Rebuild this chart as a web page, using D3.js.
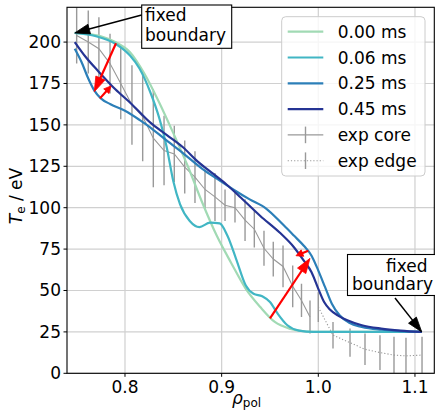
<!DOCTYPE html>
<html>
<head>
<meta charset="utf-8">
<script src="https://cdn.jsdelivr.net/npm/d3@7"></script>
<style>
  body { margin: 0; background: #fff; }
  text { font-family: "DejaVu Sans", sans-serif; }
</style>
</head>
<body>
<svg id="chart" width="435" height="415"></svg>
<script>
// ---- simulated electron temperature profiles ----
const seriesLabels = ["0.00 ms", "0.06 ms", "0.25 ms", "0.45 ms"];
const seriesColors = ["#a1dab4", "#41b6c4", "#2c7fb8", "#253494"];

const rho00 = [0.748, 0.76, 0.775, 0.79, 0.805, 0.82, 0.835, 0.85, 0.865, 0.88, 0.895, 0.91, 0.925, 0.94, 0.955, 0.97, 0.985, 1.0, 1.05, 1.107];
const te00  = [205.5, 205, 203.5, 200, 194, 181, 164, 145, 125, 103, 83, 66.5, 51, 40, 31, 27, 25.4, 25, 25, 25];

const rho06 = [0.748, 0.77, 0.79, 0.805, 0.815, 0.826, 0.836, 0.843, 0.85, 0.857, 0.867, 0.877, 0.888, 0.898, 0.906, 0.915, 0.925, 0.933, 0.942, 0.95, 0.958, 0.968, 0.98, 0.995, 1.05, 1.107];
const te06  = [205.5, 203.5, 199, 192, 184, 170, 153, 137, 116, 102, 92, 88.3, 91, 90.5, 83, 69, 53, 48, 46.5, 43, 36, 29, 25.8, 25, 25, 25];

const rho25 = [0.748, 0.755, 0.762, 0.768, 0.775, 0.785, 0.8, 0.815, 0.826, 0.84, 0.86, 0.88, 0.895, 0.912, 0.929, 0.946, 0.964, 0.975, 0.985, 0.993, 1.0, 1.007, 1.014, 1.022, 1.032, 1.045, 1.065, 1.085, 1.107];
const te25  = [196, 188, 178, 171, 166, 162.5, 158.5, 153, 148.5, 142, 133, 123.5, 117.5, 111, 105, 99.5, 89.5, 83, 77, 71, 62, 52, 42, 35, 30.5, 28, 26.3, 25.5, 25];

const rho45 = [0.748, 0.76, 0.773, 0.79, 0.807, 0.826, 0.843, 0.86, 0.875, 0.89, 0.905, 0.92, 0.94, 0.96, 0.975, 0.985, 0.993, 1.0, 1.006, 1.012, 1.02, 1.03, 1.045, 1.065, 1.085, 1.107];
const te45  = [200, 190.5, 182, 171.5, 162.5, 151.5, 144, 136.5, 128, 121, 114, 106, 95, 85, 76, 68, 61, 51, 43, 38.5, 35, 32, 29, 27, 25.8, 25];

// ---- measured profiles with uncertainties ----
const coreRho = [0.750, 0.762, 0.773, 0.7845, 0.7956, 0.8072, 0.8183, 0.8293, 0.8404, 0.851, 0.8618, 0.8724, 0.8828, 0.8931, 0.9035, 0.9138, 0.9242, 0.9338, 0.9438, 0.9534, 0.9635, 0.9735, 0.9826, 0.9914];
const coreTe  = [204, 200, 196, 187, 175, 162, 155, 142, 134.5, 132.5, 124.5, 118.5, 111, 106.5, 101.5, 100, 92.5, 87, 75.5, 69, 64.5, 52.5, 44, 34];
const coreErr = [17, 19, 19, 18, 21.6, 24, 27, 29.6, 21, 17, 16, 15.6, 12, 14.5, 9.5, 9, 12.6, 11, 10.5, 10.5, 12.6, 12.6, 10, 10];

const edgeRho = [1.0, 1.0152, 1.0328, 1.0483, 1.0638, 1.0783, 1.0907, 1.1073];
const edgeTe  = [40, 23, 18.5, 14.5, 12.5, 11, 10.5, 11];
const edgeErr = [9, 8, 8.5, 9.5, 10.5, 11, 11, 11];

// ---- axes ----
const xTicks = [0.8, 0.9, 1.0, 1.1];
const yTicks = [0, 25, 50, 75, 100, 125, 150, 175, 200];

// ---- evolution arrows (rho, Te) ----
const redFrom = [[0.7907, 199.3], [0.7741, 166.0], [0.950, 33.2], [0.9896, 74.0]];
const redTo   = [[0.7682, 170.0], [0.7855, 173.5], [0.9914, 69.4], [0.9769, 71.0]];
const redBig  = [true, false, true, false];

// fixed boundary points
const boundaryPts = [[0.748, 205.5], [1.107, 25]];

const svg = d3.select("#chart");
const W = 435, H = 415;
const L = 67, R = 434.3, T = 7.3, B = 373.3;

const x = d3.scaleLinear().domain([0.74, 1.12]).range([L, R]);
const y = d3.scaleLinear().domain([0, 221]).range([B, T]);

svg.append("rect").attr("width", W).attr("height", H).attr("fill", "#fff");

svg.append("defs").append("clipPath").attr("id", "plotclip")
  .append("rect").attr("x", L).attr("y", T).attr("width", R - L).attr("height", B - T);

// grid
const grid = svg.append("g");
xTicks.forEach(t => grid.append("line")
  .attr("x1", x(t)).attr("x2", x(t)).attr("y1", T).attr("y2", B)
  .attr("stroke", "#d0d0d0").attr("stroke-width", 1.2));
yTicks.forEach(t => grid.append("line")
  .attr("x1", L).attr("x2", R).attr("y1", y(t)).attr("y2", y(t))
  .attr("stroke", "#d0d0d0").attr("stroke-width", 1.2));

const plot = svg.append("g").attr("clip-path", "url(#plotclip)");

// error bars
function errorBars(rho, te, err) {
  rho.forEach((r, i) => {
    plot.append("line")
      .attr("x1", x(r)).attr("x2", x(r))
      .attr("y1", y(te[i] - err[i])).attr("y2", y(te[i] + err[i]))
      .attr("stroke", "#999").attr("stroke-width", 1.4);
  });
}
errorBars(coreRho, coreTe, coreErr);
errorBars(edgeRho, edgeTe, edgeErr);

const straight = d3.line().x(d => x(d[0])).y(d => y(d[1]));
plot.append("path").datum(d3.zip(coreRho, coreTe)).attr("d", straight)
  .attr("fill", "none").attr("stroke", "#999").attr("stroke-width", 1.1);
plot.append("path").datum(d3.zip(edgeRho, edgeTe)).attr("d", straight)
  .attr("fill", "none").attr("stroke", "#999").attr("stroke-width", 1.1)
  .attr("stroke-dasharray", "1.2,2");

// model curves
const smooth = d3.line().x(d => x(d[0])).y(d => y(d[1])).curve(d3.curveMonotoneX);
const seriesData = [[rho00, te00], [rho06, te06], [rho25, te25], [rho45, te45]];
seriesData.forEach(([r, t], i) => {
  plot.append("path").datum(d3.zip(r, t)).attr("d", smooth)
    .attr("fill", "none").attr("stroke", seriesColors[i]).attr("stroke-width", 2.2)
    .attr("stroke-linejoin", "round");
});

// arrow helper in pixel space
function arrow(g, x1, y1, x2, y2, color, lw, headLen, headHalf) {
  const dx = x2 - x1, dy = y2 - y1, len = Math.hypot(dx, dy);
  const ux = dx / len, uy = dy / len;
  const bx = x2 - ux * headLen, by = y2 - uy * headLen;
  g.append("line").attr("x1", x1).attr("y1", y1).attr("x2", bx + ux).attr("y2", by + uy)
    .attr("stroke", color).attr("stroke-width", lw);
  g.append("path")
    .attr("d", `M${x2},${y2}L${bx - uy * headHalf},${by + ux * headHalf}L${bx + uy * headHalf},${by - ux * headHalf}Z`)
    .attr("fill", color).attr("stroke", color).attr("stroke-width", 0.8).attr("stroke-linejoin", "miter");
}

const ann = svg.append("g");
redFrom.forEach((f, i) => {
  const big = redBig[i];
  arrow(ann, x(f[0]), y(f[1]), x(redTo[i][0]), y(redTo[i][1]), "#ff0000", 2.2,
        big ? 15 : 7, big ? 5 : 3.5);
});

// frame
svg.append("rect").attr("x", L).attr("y", T).attr("width", R - L).attr("height", B - T)
  .attr("fill", "none").attr("stroke", "#000").attr("stroke-width", 1.1);

// ticks
const axes = svg.append("g").attr("font-size", 17).attr("fill", "#000");
xTicks.forEach(t => {
  axes.append("line").attr("x1", x(t)).attr("x2", x(t)).attr("y1", B).attr("y2", B + 3.5)
    .attr("stroke", "#000").attr("stroke-width", 1);
  axes.append("text").attr("x", x(t)).attr("y", B + 20).attr("text-anchor", "middle")
    .text(d3.format(".1f")(t));
});
yTicks.forEach(t => {
  axes.append("line").attr("x1", L - 3.5).attr("x2", L).attr("y1", y(t)).attr("y2", y(t))
    .attr("stroke", "#000").attr("stroke-width", 1);
  axes.append("text").attr("x", L - 6).attr("y", y(t) + 6).attr("text-anchor", "end").text(t);
});

// axis labels
const xl = svg.append("text").attr("x", 232).attr("y", 404).attr("font-size", 17);
xl.append("tspan").attr("font-style", "italic").text("ρ");
xl.append("tspan").attr("font-size", 12).attr("dy", 3).text("pol");

const yl = svg.append("text").attr("transform", "translate(22,196) rotate(-90)")
  .attr("text-anchor", "middle").attr("font-size", 17);
yl.append("tspan").attr("font-style", "italic").text("T");
yl.append("tspan").attr("font-size", 12).attr("dy", 3).text("e");
yl.append("tspan").attr("dy", -3).text(" / eV");

// fixed boundary annotations
const b1 = svg.append("g");
b1.append("rect").attr("x", 141.7).attr("y", 5).attr("width", 90).attr("height", 43.3)
  .attr("fill", "#fff").attr("stroke", "#000").attr("stroke-width", 1.1);
b1.append("text").attr("x", 145).attr("y", 21).attr("font-size", 17).text("fixed");
b1.append("text").attr("x", 145).attr("y", 41).attr("font-size", 17).text("boundary");
arrow(b1, 141.7, 15, x(boundaryPts[0][0]), y(boundaryPts[0][1]), "#000", 1.5, 15, 5);

const b2 = svg.append("g");
b2.append("rect").attr("x", 347.5).attr("y", 254.5).attr("width", 90).attr("height", 41)
  .attr("fill", "#fff").attr("stroke", "#000").attr("stroke-width", 1.1);
b2.append("text").attr("x", 427.5).attr("y", 271.5).attr("font-size", 17)
  .attr("text-anchor", "end").text("fixed");
b2.append("text").attr("x", 433).attr("y", 290).attr("font-size", 17)
  .attr("text-anchor", "end").text("boundary");
arrow(b2, 395, 298, x(boundaryPts[1][0]), y(boundaryPts[1][1]), "#000", 1.5, 15, 5);

// legend
const lg = svg.append("g");
lg.append("rect").attr("x", 281.7).attr("y", 16.7).attr("width", 143.3).attr("height", 159.3)
  .attr("rx", 4).attr("fill", "#fff").attr("fill-opacity", 0.8)
  .attr("stroke", "#cccccc").attr("stroke-width", 1);
const rowY = i => 31.7 + i * 25.8;
seriesLabels.forEach((lab, i) => {
  lg.append("line").attr("x1", 287.7).attr("x2", 323.3).attr("y1", rowY(i)).attr("y2", rowY(i))
    .attr("stroke", seriesColors[i]).attr("stroke-width", 2.2);
  lg.append("text").attr("x", 337.7).attr("y", rowY(i) + 6).attr("font-size", 17).text(lab);
});
["exp core", "exp edge"].forEach((lab, j) => {
  const yy = rowY(4 + j);
  const ln = lg.append("line").attr("x1", 287.7).attr("x2", 323.3).attr("y1", yy).attr("y2", yy)
    .attr("stroke", "#999").attr("stroke-width", 1.1);
  if (j === 1) ln.attr("stroke-dasharray", "1.2,2");
  lg.append("line").attr("x1", 305.5).attr("x2", 305.5).attr("y1", yy - 8.3).attr("y2", yy + 8.3)
    .attr("stroke", "#999").attr("stroke-width", 1.4);
  lg.append("text").attr("x", 337.7).attr("y", yy + 6).attr("font-size", 17).text(lab);
});
</script>
</body>
</html>
